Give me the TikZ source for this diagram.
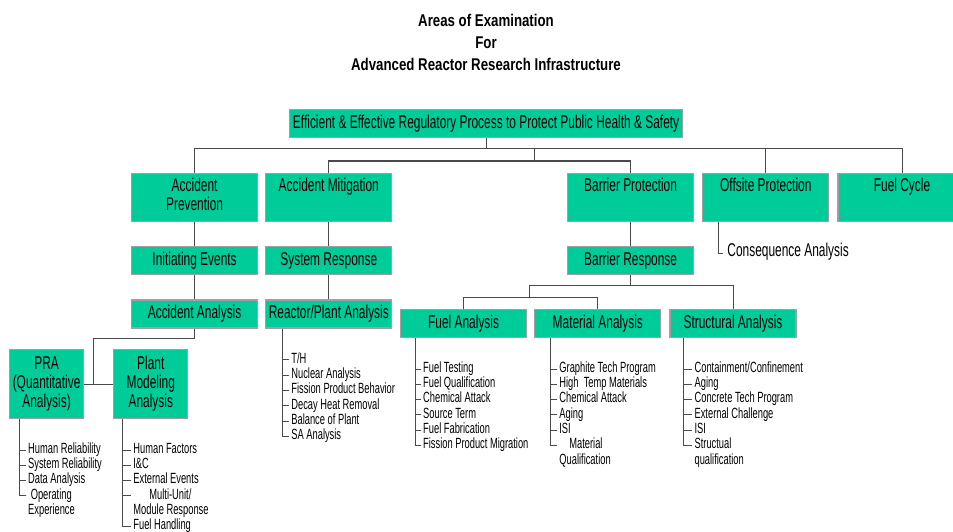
\documentclass[tikz,border=0pt]{standalone}
\usepackage{fontspec}
\setmainfont{Liberation Sans}
\newfontfamily\boxfont[FakeStretch=0.645]{Liberation Sans}
\newfontfamily\listfont[FakeStretch=0.63]{Liberation Sans}
\newfontfamily\headfont[FakeStretch=0.78]{Liberation Sans}
\usetikzlibrary{positioning}
\definecolor{arBox}{HTML}{00CC99}
\definecolor{arEdge}{HTML}{A0A0A0}
\definecolor{arLine}{HTML}{4A4A4A}

\begin{document}
\begin{tikzpicture}[
    x=1pt, y=-1pt,
    node distance=24pt,
    box/.style={draw=arEdge, line width=1.2pt, fill=arBox, minimum width=126pt, minimum height=28pt, inner sep=0pt, align=center, font=\boxfont\fontsize{18.5}{19}\selectfont},
    tallbox/.style={box, minimum height=48pt},
    link/.style={arLine, line width=1pt},
    item/.style={anchor=west, inner sep=0pt, text height=10.5pt, text depth=4pt, font=\listfont\fontsize{14.8}{15.3}\selectfont}
]
    \useasboundingbox (0,0) rectangle (953,532);

    \node[font=\headfont\bfseries\fontsize{17}{22}\selectfont, align=center] (title) at (486,42) {Areas of Examination\\For\\Advanced Reactor Research Infrastructure};

    \node[box, minimum width=393pt, anchor=north west] (goal) at (289,109) {Efficient \& Effective Regulatory Process to Protect Public Health \& Safety};

    % areas
    \node[tallbox, anchor=north west] (prev) at (131,173) {Accident\\Prevention\strut};
    \node[tallbox, right=7pt of prev] (mitig) {Accident Mitigation\\\strut};
    \node[tallbox, anchor=north west] (barp) at (567,173) {Barrier Protection\\\strut};
    \node[tallbox, right=8pt of barp] (offp) {Offsite Protection\\\strut};
    \node[tallbox, right=8pt of offp, minimum width=128pt] (fcyc) {Fuel Cycle\\\strut};

    \node[box, below=of prev] (init) {Initiating Events};
    \node[box, below=of init] (acca) {Accident Analysis};
    \node[box, below=of mitig] (sysr) {System Response};
    \node[box, below=of sysr] (rpa) {Reactor/Plant Analysis};
    \node[box, below=of barp] (barr) {Barrier Response};

    \node[box, anchor=north west] (fuela) at (400,309) {Fuel Analysis};
    \node[box, right=7pt of fuela] (mata) {Material Analysis};
    \node[box, right=8pt of mata] (stra) {Structural Analysis};

    \node[box, minimum width=74pt, minimum height=69pt, anchor=north west] (pra) at (9,349) {PRA\\(Quantitative\\Analysis)};
    \node[box, minimum width=74pt, minimum height=69pt, right=29pt of pra] (pma) {Plant\\Modeling\\Analysis};

    % connectors
    \coordinate (busA) at (0,149);
    \coordinate (busB) at (0,161);
    \coordinate (split) at (534,149);
    \coordinate (splitB) at (534,161);
    \draw[link] (goal) -- (goal |- busA);
    \draw[link] (prev) |- (fcyc |- busA) -- (fcyc);
    \draw[link] (offp) -- (offp |- busA);
    \draw[link] (split) -- (splitB);
    \draw[link] (mitig) |- (barp |- busB) -- (barp);

    \draw[link] (prev) -- (init);
    \draw[link] (init) -- (acca);
    \draw[link] (mitig) -- (sysr);
    \draw[link] (sysr) -- (rpa);
    \draw[link] (barp) -- (barr);

    \coordinate (brA) at (529,285);
    \coordinate (brB) at (529,297);
    \draw[link] (barr) -- (barr |- brA);
    \draw[link] (brA) -| (stra);
    \draw[link] (brA) -- (brB);
    \draw[link] (fuela) |- (mata |- brB) -- (mata);

    \coordinate (accB) at (0,338);
    \coordinate (jn) at ([xshift=9pt]pra.east);
    \draw[link] (pra) -- (pma);
    \draw[link] (acca) -- (acca |- accB) -| (jn);

    % lists
    \coordinate (pra-root) at ([xshift=10pt]pra.south west);
    \foreach \i/\txt in {1/Human Reliability, 2/System Reliability, 3/Data Analysis, 4/{\ Operating}} {
        \node[item] (pra-\i) at ([shift={(9,15.5+15.3*\i)}]pra-root) {\txt};
        \draw[link] (pra-root |- pra-\i.west) -- ([xshift=-2pt]pra-\i.west);
    }
    \node[item] (pra-5) at ([shift={(9,15.5+15.3*5)}]pra-root) {Experience};
    \draw[link] (pra-root) -- (pra-root |- pra-4.west);

    \coordinate (pma-root) at ([xshift=9pt]pma.south west);
    \foreach \i/\txt in {1/Human Factors, 2/I\&C, 3/External Events, 4/{\hspace*{16pt}Multi-Unit/}, 6/Fuel Handling} {
        \node[item] (pma-\i) at ([shift={(11,15.5+15.3*\i)}]pma-root) {\txt};
        \draw[link] (pma-root |- pma-\i.west) -- ([xshift=-2pt]pma-\i.west);
    }
    \node[item] (pma-5) at ([shift={(11,15.5+15.3*5)}]pma-root) {Module Response};
    \draw[link] (pma-root) -- (pma-root |- pma-6.west);

    \coordinate (rpa-root) at ([xshift=17pt]rpa.south west);
    \foreach \i/\txt in {1/{T/H}, 2/Nuclear Analysis, 3/Fission Product Behavior, 4/Decay Heat Removal, 5/Balance of Plant, 6/SA Analysis} {
        \node[item] (rpa-\i) at ([shift={(9,16+15.3*\i)}]rpa-root) {\txt};
        \draw[link] (rpa-root |- rpa-\i.west) -- ([xshift=-2pt]rpa-\i.west);
    }
    \draw[link] (rpa-root) -- (rpa-root |- rpa-6.west);

    \coordinate (fuela-root) at ([xshift=15pt]fuela.south west);
    \foreach \i/\txt in {1/Fuel Testing, 2/Fuel Qualification, 3/Chemical Attack, 4/Source Term, 5/Fuel Fabrication, 6/Fission Product Migration} {
        \node[item] (fuela-\i) at ([shift={(8,15.5+15.3*\i)}]fuela-root) {\txt};
        \draw[link] (fuela-root |- fuela-\i.west) -- ([xshift=-2pt]fuela-\i.west);
    }
    \draw[link] (fuela-root) -- (fuela-root |- fuela-6.west);

    \coordinate (mata-root) at ([xshift=16pt]mata.south west);
    \foreach \i/\txt in {1/Graphite Tech Program, 2/High\ \ Temp Materials, 3/Chemical Attack, 4/Aging, 5/ISI, 6/{\hspace*{10pt}Material}} {
        \node[item] (mata-\i) at ([shift={(9,15.5+15.3*\i)}]mata-root) {\txt};
        \draw[link] (mata-root |- mata-\i.west) -- ([xshift=-2pt]mata-\i.west);
    }
    \node[item] (mata-7) at ([shift={(9,15.5+15.3*7)}]mata-root) {Qualification};
    \draw[link] (mata-root) -- (mata-root |- mata-6.west);

    \coordinate (stra-root) at ([xshift=14pt]stra.south west);
    \foreach \i/\txt in {1/{Containment/Confinement}, 2/Aging, 3/Concrete Tech Program, 4/External Challenge, 5/ISI, 6/Structual} {
        \node[item] (stra-\i) at ([shift={(11,15.5+15.3*\i)}]stra-root) {\txt};
        \draw[link] (stra-root |- stra-\i.west) -- ([xshift=-2pt]stra-\i.west);
    }
    \node[item] (stra-7) at ([shift={(11,15.5+15.3*7)}]stra-root) {qualification};
    \draw[link] (stra-root) -- (stra-root |- stra-6.west);

    \coordinate (offp-root) at ([xshift=16pt]offp.south west);
    \node[item, font=\boxfont\fontsize{18.5}{19}\selectfont] (cons) at ([shift={(9,31)}]offp-root) {Consequence Analysis};
    \draw[link] (offp-root) |- ([xshift=-4pt]cons.west);
\end{tikzpicture}
\end{document}
